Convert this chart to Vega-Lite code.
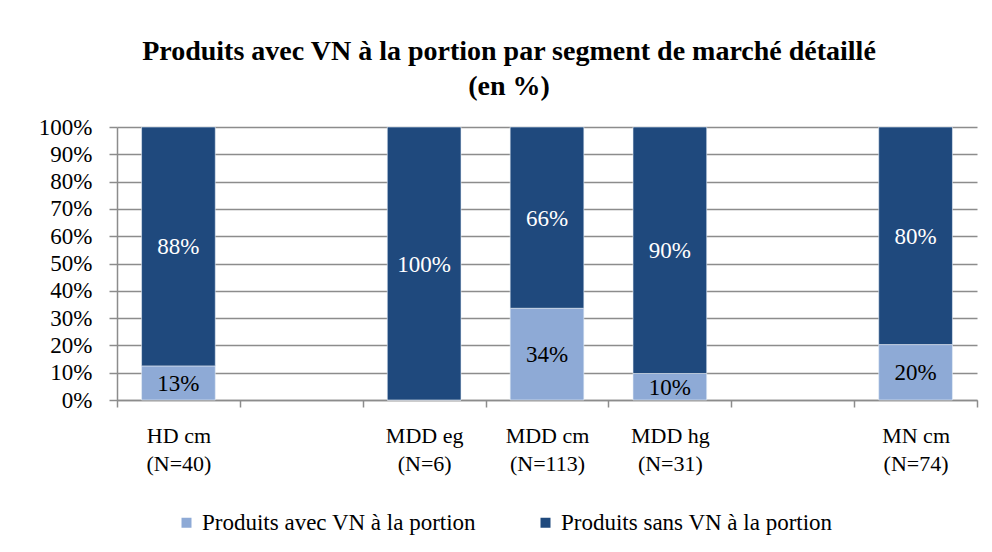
{
  "$schema": "https://vega.github.io/schema/vega-lite/v6.json",
  "width": 860,
  "height": 273,
  "autosize": {"type": "none"},
  "padding": {"left": 117, "top": 127, "right": 15, "bottom": 152},
  "background": "white",
  "config": {
    "font": "Liberation Serif",
    "view": {"stroke": null}
  },
  "title": {
    "text": ["Produits avec VN à la portion par segment de marché détaillé", "(en %)"],
    "font": "Liberation Serif",
    "fontSize": 28,
    "fontWeight": "bold",
    "lineHeight": 35,
    "anchor": "middle",
    "dx": -38,
    "offset": 15,
    "color": "black"
  },
  "data": {
    "values": [
      {"segment": "HD cm|(N=40)", "type": "Produits avec VN à la portion", "share": 0.125},
      {"segment": "HD cm|(N=40)", "type": "Produits sans VN à la portion", "share": 0.875},
      {"segment": "MDD eg|(N=6)", "type": "Produits avec VN à la portion", "share": 0},
      {"segment": "MDD eg|(N=6)", "type": "Produits sans VN à la portion", "share": 1},
      {"segment": "MDD cm|(N=113)", "type": "Produits avec VN à la portion", "share": 0.336},
      {"segment": "MDD cm|(N=113)", "type": "Produits sans VN à la portion", "share": 0.664},
      {"segment": "MDD hg|(N=31)", "type": "Produits avec VN à la portion", "share": 0.097},
      {"segment": "MDD hg|(N=31)", "type": "Produits sans VN à la portion", "share": 0.903},
      {"segment": "MN cm|(N=74)", "type": "Produits avec VN à la portion", "share": 0.203},
      {"segment": "MN cm|(N=74)", "type": "Produits sans VN à la portion", "share": 0.797}
    ]
  },
  "encoding": {
    "x": {
      "field": "segment",
      "type": "nominal",
      "title": null,
      "sort": null,
      "scale": {
        "domain": ["HD cm|(N=40)", "gap1", "MDD eg|(N=6)", "MDD cm|(N=113)", "MDD hg|(N=31)", "gap2", "MN cm|(N=74)"],
        "paddingInner": 0,
        "paddingOuter": 0
      },
      "axis": {
        "labelExpr": "indexof(datum.label, '|') < 0 ? '' : split(datum.label, '|')",
        "labelAngle": 0,
        "labelFontSize": 22,
        "labelColor": "black",
        "labelLineHeight": 28,
        "labelBaseline": "top",
        "labelPadding": 18,
        "tickBand": "extent",
        "tickSize": 7,
        "tickColor": "#8c8c8c",
        "tickWidth": 1.5,
        "domainColor": "#8c8c8c",
        "domainWidth": 1.5,
        "grid": false
      }
    },
    "y": {
      "field": "share",
      "type": "quantitative",
      "stack": "zero",
      "title": null,
      "scale": {"domain": [0, 1], "nice": false},
      "axis": {
        "values": [0, 0.1, 0.2, 0.3, 0.4, 0.5, 0.6, 0.7, 0.8, 0.9, 1],
        "format": ".0%",
        "labelOverlap": false,
        "labelFontSize": 23,
        "labelColor": "black",
        "labelPadding": 17,
        "tickSize": 8,
        "tickColor": "#8c8c8c",
        "tickWidth": 1.5,
        "domainColor": "#8c8c8c",
        "domainWidth": 1.5,
        "grid": true,
        "gridColor": "#8c8c8c",
        "gridWidth": 1.5
      }
    },
    "order": {"field": "type", "sort": "ascending"}
  },
  "layer": [
    {
      "mark": {"type": "bar", "width": {"band": 0.6}, "stroke": "#e8eef7", "strokeWidth": 0.6},
      "encoding": {
        "color": {
          "field": "type",
          "type": "nominal",
          "scale": {
            "domain": ["Produits avec VN à la portion", "Produits sans VN à la portion"],
            "range": ["#8eaad6", "#1f497d"]
          },
          "legend": {
            "title": null,
            "orient": "none",
            "direction": "horizontal",
            "legendX": 58,
            "legendY": 384,
            "symbolType": "square",
            "symbolSize": 100,
            "symbolStrokeWidth": 0,
            "labelFontSize": 23,
            "labelColor": "black",
            "labelOffset": 4,
            "columnPadding": 57,
            "labelLimit": 400
          }
        }
      }
    },
    {
      "transform": [{"filter": "datum.share > 0"}],
      "mark": {"type": "text", "fontSize": 23, "baseline": "middle", "dy": 1},
      "encoding": {
        "y": {"field": "share", "type": "quantitative", "stack": "zero", "bandPosition": 0.5},
        "detail": {"field": "type"},
        "text": {"field": "share", "type": "quantitative", "format": ".0%"},
        "color": {
          "condition": {"test": "datum.type === 'Produits sans VN à la portion'", "value": "white"},
          "value": "black"
        }
      }
    }
  ]
}
